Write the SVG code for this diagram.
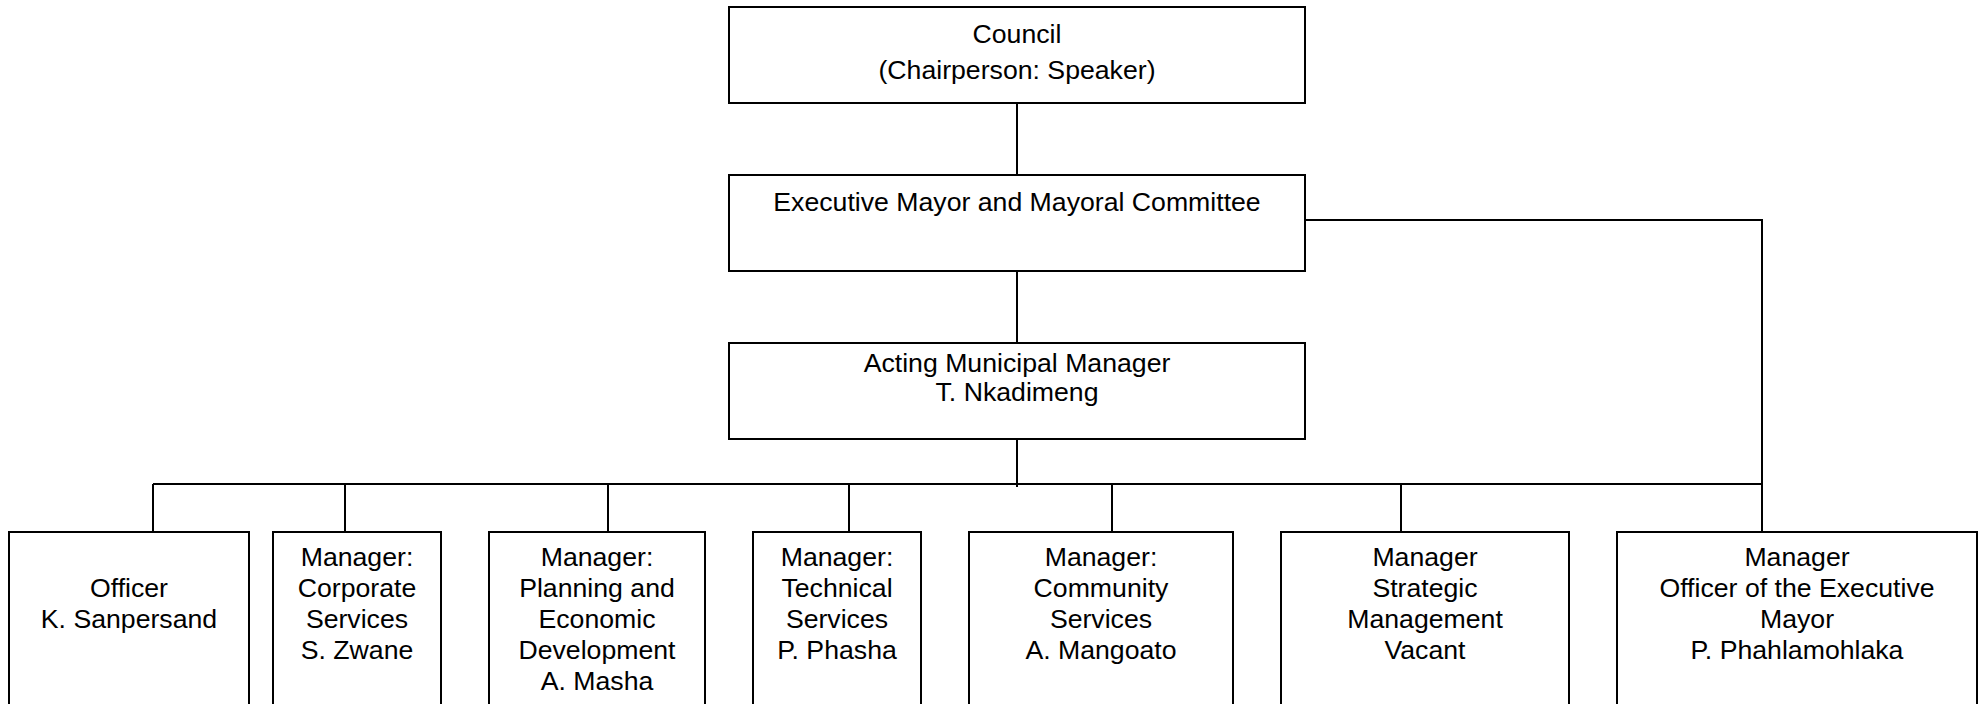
<svg xmlns="http://www.w3.org/2000/svg" width="1986" height="704" viewBox="0 0 1986 704">
<style>
.box{fill:#fff;stroke:#000;stroke-width:2}
.ln{fill:none;stroke:#000;stroke-width:2}
text{font-family:"Liberation Sans",Arial,sans-serif;font-size:26.67px;fill:#000;text-anchor:middle}
</style>
<rect x="0" y="0" width="1986" height="704" fill="#fff"/>
<g id="connectors">
<path class="ln" d="M1017,102 V175"/>
<path class="ln" d="M1017,270 V343"/>
<path class="ln" d="M1017,438 V487"/>
<path class="ln" d="M1305,220 H1762 V532"/>
<path class="ln" d="M153,484 H1762"/>
<path class="ln" d="M153,484 V532"/>
<path class="ln" d="M345,484 V532"/>
<path class="ln" d="M608,484 V532"/>
<path class="ln" d="M849,484 V532"/>
<path class="ln" d="M1112,484 V532"/>
<path class="ln" d="M1401,484 V532"/>
</g>
<g id="council">
<rect class="box" x="729" y="7" width="576" height="96"/>
<text x="1017" y="43">Council</text>
<text x="1017" y="79">(Chairperson: Speaker)</text>
</g>
<g id="executive-mayor">
<rect class="box" x="729" y="175" width="576" height="96"/>
<text x="1017" y="211">Executive Mayor and Mayoral Committee</text>
</g>
<g id="municipal-manager">
<rect class="box" x="729" y="343" width="576" height="96"/>
<text x="1017" y="372">Acting Municipal Manager</text>
<text x="1017" y="401">T. Nkadimeng</text>
</g>
<g id="officer">
<rect class="box" x="9" y="532" width="240" height="200"/>
<text x="129" y="597">Officer</text>
<text x="129" y="628">K. Sanpersand</text>
</g>
<g id="corporate">
<rect class="box" x="273" y="532" width="168" height="200"/>
<text x="357" y="566">Manager:</text>
<text x="357" y="597">Corporate</text>
<text x="357" y="628">Services</text>
<text x="357" y="659">S. Zwane</text>
</g>
<g id="planning">
<rect class="box" x="489" y="532" width="216" height="200"/>
<text x="597" y="566">Manager:</text>
<text x="597" y="597">Planning and</text>
<text x="597" y="628">Economic</text>
<text x="597" y="659">Development</text>
<text x="597" y="690">A. Masha</text>
</g>
<g id="technical">
<rect class="box" x="753" y="532" width="168" height="200"/>
<text x="837" y="566">Manager:</text>
<text x="837" y="597">Technical</text>
<text x="837" y="628">Services</text>
<text x="837" y="659">P. Phasha</text>
</g>
<g id="community">
<rect class="box" x="969" y="532" width="264" height="200"/>
<text x="1101" y="566">Manager:</text>
<text x="1101" y="597">Community</text>
<text x="1101" y="628">Services</text>
<text x="1101" y="659">A. Mangoato</text>
</g>
<g id="strategic">
<rect class="box" x="1281" y="532" width="288" height="200"/>
<text x="1425" y="566">Manager</text>
<text x="1425" y="597">Strategic</text>
<text x="1425" y="628">Management</text>
<text x="1425" y="659">Vacant</text>
</g>
<g id="office-exec-mayor">
<rect class="box" x="1617" y="532" width="360" height="200"/>
<text x="1797" y="566">Manager</text>
<text x="1797" y="597">Officer of the Executive</text>
<text x="1797" y="628">Mayor</text>
<text x="1797" y="659">P. Phahlamohlaka</text>
</g>
</svg>
